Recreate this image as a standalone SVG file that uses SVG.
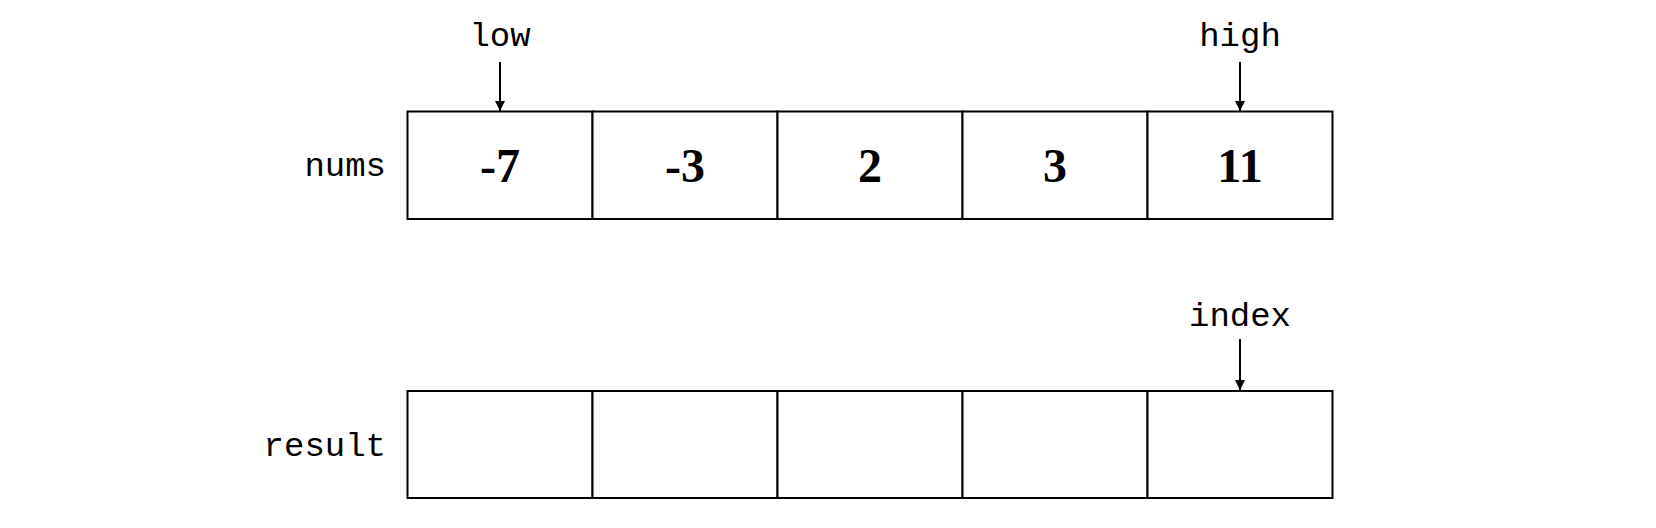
<svg xmlns="http://www.w3.org/2000/svg" width="1656" height="528" viewBox="0 0 1656 528">
<style>
.cell{fill:#fff;stroke:#000;stroke-width:2}
.lbl{font-family:"Liberation Mono","Courier New",monospace;font-size:34px;fill:#000}
.num{font-family:"Liberation Serif","Times New Roman",serif;font-size:48px;font-weight:bold;fill:#000;text-anchor:middle}
.arr{stroke:#000;stroke-width:2;fill:none;marker-end:url(#ah)}
</style>
<defs>
<marker id="ah" markerWidth="10" markerHeight="10" refX="10" refY="5" orient="auto" markerUnits="userSpaceOnUse">
<path d="M0,0 L10,5 L0,10 Z" fill="#000"/>
</marker>
</defs>
<rect width="1656" height="528" fill="#fff"/>
<g id="nums">
<text class="lbl" x="386" y="176" text-anchor="end">nums</text>
<rect class="cell" x="407.5" y="111.5" width="185" height="107.5"/>
<rect class="cell" x="592.5" y="111.5" width="185" height="107.5"/>
<rect class="cell" x="777.5" y="111.5" width="185" height="107.5"/>
<rect class="cell" x="962.5" y="111.5" width="185" height="107.5"/>
<rect class="cell" x="1147.5" y="111.5" width="185" height="107.5"/>
<text class="num" x="500" y="182">-7</text>
<text class="num" x="685" y="182">-3</text>
<text class="num" x="870" y="182">2</text>
<text class="num" x="1055" y="182">3</text>
<text class="num" x="1240" y="182">11</text>
</g>
<g id="result">
<text class="lbl" x="386" y="456" text-anchor="end">result</text>
<rect class="cell" x="407.5" y="391" width="185" height="107"/>
<rect class="cell" x="592.5" y="391" width="185" height="107"/>
<rect class="cell" x="777.5" y="391" width="185" height="107"/>
<rect class="cell" x="962.5" y="391" width="185" height="107"/>
<rect class="cell" x="1147.5" y="391" width="185" height="107"/>
</g>
<g id="low"><text class="lbl" x="500" y="46" text-anchor="middle">low</text></g>
<g id="high"><text class="lbl" x="1240" y="46" text-anchor="middle">high</text></g>
<g id="index"><text class="lbl" x="1240" y="326" text-anchor="middle">index</text></g>
<g id="connectors">
<line class="arr" x1="500" y1="62" x2="500" y2="111"/>
<line class="arr" x1="1240" y1="62" x2="1240" y2="111"/>
<line class="arr" x1="1240" y1="339" x2="1240" y2="390"/>
</g>
</svg>
